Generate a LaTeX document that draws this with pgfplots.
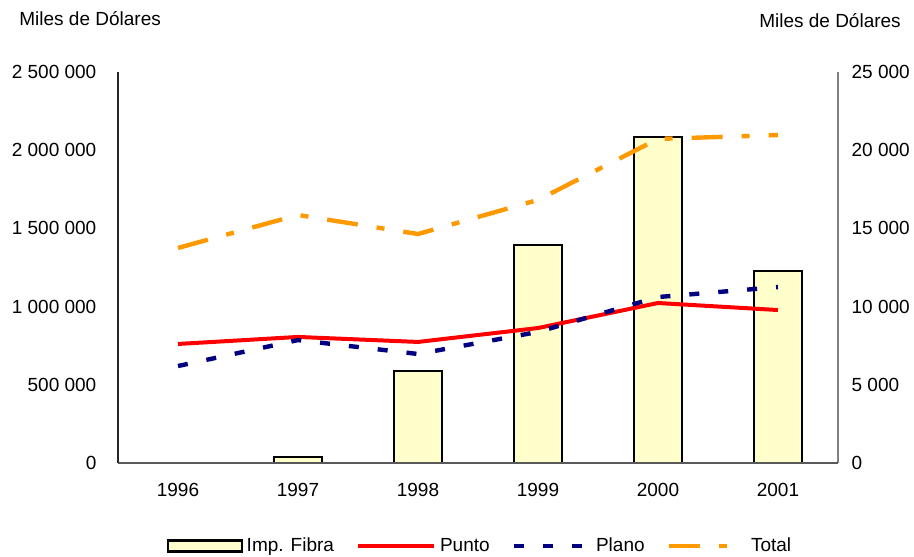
\documentclass[border=0pt]{standalone}
\usepackage{fontspec}
\setmainfont{Liberation Sans}
\usepackage{pgfplots}
\pgfplotsset{compat=1.18}
\definecolor{barfill}{HTML}{FFFFCC}
\definecolor{orng}{HTML}{FF9900}
\definecolor{navy}{HTML}{000080}
\newcommand{\f}{\fontsize{9.5}{11}\selectfont}
\begin{document}
\begin{tikzpicture}
\path[use as bounding box] (-59pt,-46.5pt) rectangle (398pt,231.5pt);
\pgfplotsset{
 common/.style={scale only axis, width=360pt, height=195.5pt, xmin=-0.5, xmax=5.5, ymin=0,
   clip=false, major tick length=0pt, tick style={draw=none},
   /pgf/number format/fixed, /pgf/number format/precision=0,
   /pgf/number format/assume math mode=true, /pgf/number format/1000 sep={\ },
   scaled y ticks=false, tick label style={font=\f}, axis line style={-}},
}
% Imp. Fibra on the right axis
\begin{axis}[common, ymax=25000, axis x line=none, axis y line*=right,
  y axis line style={gray, line width=0.7pt},
  ytick={0,5000,...,25000}, yticklabel style={xshift=3.3pt}]
\addplot[ybar, bar width=24pt, fill=barfill, draw=black, line width=1.1pt]
  coordinates {(1,380) (2,5880) (3,13940) (4,20840) (5,12280)};
\end{axis}
% Lines on the left axis
\begin{axis}[common, ymax=2500000, axis x line*=bottom, axis y line*=left,
  x axis line style={black!65, line width=0.8pt},
  y axis line style={black!85, line width=0.8pt},
  xtick={0,...,5}, xticklabels={1996,1997,1998,1999,2000,2001},
  xticklabel style={yshift=-6.5pt},
  ytick={0,500000,1000000,1500000,2000000,2500000}, yticklabel style={xshift=-7.3pt},
  legend style={at={(0.504,-0.2123)}, anchor=center, draw=none, font=\f,
    /tikz/every even column/.append style={column sep=9pt}},
  legend columns=4,
  legend image code/.code={\draw[#1] (0pt,0pt) -- (38pt,0pt);}]
\addlegendimage{legend image code/.code={\draw[black, line width=1.1pt, fill=barfill] (0pt,-2.75pt) rectangle (37pt,2.75pt);}}
\addlegendentry{Imp. Fibra}
\addplot[red, line width=2pt] coordinates {(0,761000) (1,806000) (2,774000) (3,863000) (4,1023000) (5,978000)};
\addlegendentry{Punto}
\addplot[navy, line width=2.2pt, dash pattern=on 5pt off 9.5pt] coordinates {(0,620000) (1,786000) (2,697000) (3,838000) (4,1061000) (5,1125000)};
\addlegendentry{Plano}
\addplot[orng, line width=2.2pt, dash pattern=on 15.5pt off 9.5pt on 4pt off 9.5pt] coordinates {(0,1375000) (1,1586000) (2,1464000) (3,1682000) (4,2072000) (5,2097000)};
\addlegendentry{Total}
\end{axis}
\node[anchor=west, font=\f, inner sep=0pt] at (-49.5pt,222pt) {Miles de Dólares};
\node[anchor=center, font=\f, inner sep=0pt] at (356pt,221pt) {Miles de Dólares};
\end{tikzpicture}
\end{document}
